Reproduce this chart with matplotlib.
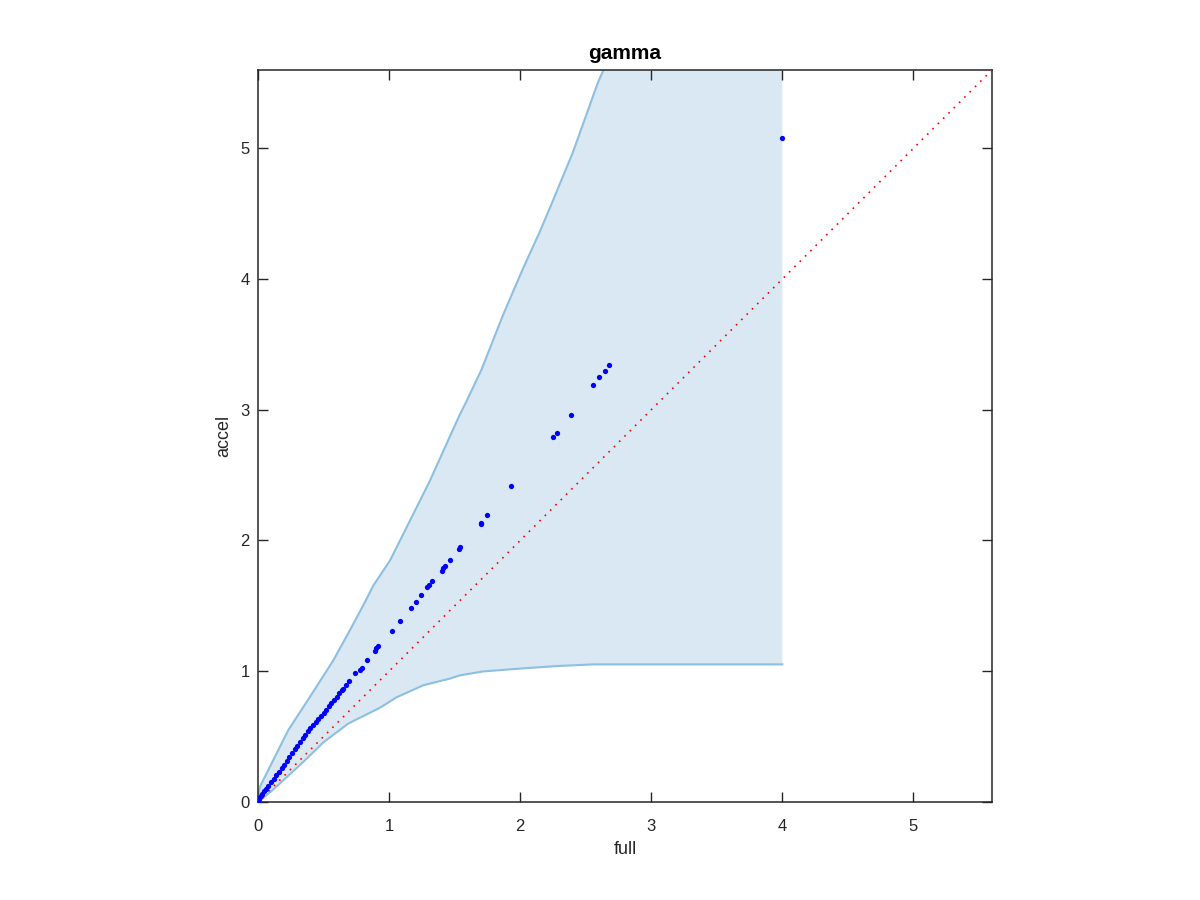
import matplotlib
matplotlib.use("Agg")
import matplotlib.pyplot as plt

# points (full, accel)
full = [0, 0.005, 0.01, 0.02, 0.03, 0.045, 0.06, 0.08, 0.10, 0.12, 0.14, 0.16,
        0.18, 0.20, 0.22, 0.24, 0.26, 0.28, 0.30, 0.32, 0.34, 0.36, 0.38, 0.40,
        0.42, 0.44, 0.46, 0.48, 0.50, 0.52, 0.54, 0.56, 0.58, 0.60, 0.62, 0.64,
        0.65, 0.67, 0.696, 0.739, 0.777, 0.79, 0.833, 0.891, 0.904, 0.917, 1.019,
        1.082, 1.166, 1.204, 1.24, 1.293, 1.308, 1.328, 1.40, 1.412, 1.43, 1.465,
        1.534, 1.542, 1.699, 1.704, 1.745, 1.93, 2.248, 2.28, 2.385, 2.555, 2.598,
        2.644, 2.677, 4.0]
accel = [0, 0.02, 0.03, 0.048, 0.062, 0.08, 0.098, 0.124, 0.150, 0.176, 0.203, 0.23,
         0.258, 0.286, 0.315, 0.344, 0.373, 0.402, 0.43, 0.46, 0.49, 0.515, 0.54, 0.565,
         0.59, 0.612, 0.635, 0.657, 0.68, 0.705, 0.73, 0.755, 0.78, 0.805, 0.83, 0.853,
         0.865, 0.893, 0.925, 0.987, 1.006, 1.025, 1.088, 1.153, 1.179, 1.191, 1.311,
         1.387, 1.48, 1.527, 1.582, 1.641, 1.663, 1.69, 1.763, 1.786, 1.801, 1.847,
         1.936, 1.949, 2.126, 2.134, 2.193, 2.418, 2.79, 2.825, 2.958, 3.188, 3.252,
         3.30, 3.346, 5.076]

# band edges
upper_x = [0, 0.0, 0.015, 0.104, 0.231, 0.396, 0.574, 0.70, 0.815, 0.879,
           1.006, 1.082, 1.31, 1.539, 1.59, 1.704, 1.869, 2.021, 2.149, 2.25, 2.402,
           2.593, 2.63, 3.0, 4.0]
upper_y = [0, 0.04, 0.117, 0.295, 0.549, 0.803, 1.082, 1.311, 1.527, 1.654,
           1.845, 1.997, 2.454, 2.962, 3.064, 3.305, 3.724, 4.079, 4.36, 4.60, 4.969,
           5.503, 5.587, 6.5, 9.0]
lower_x = [0, 0.1, 0.231, 0.35, 0.498, 0.69, 0.93, 1.057, 1.26, 1.463, 1.539,
           1.717, 2.0, 2.276, 2.555, 4.0]
lower_y = [0, 0.08, 0.20, 0.31, 0.455, 0.60, 0.72, 0.80, 0.892, 0.943, 0.968,
           0.998, 1.02, 1.039, 1.052, 1.052]

diag = [0, 5.6]

plt.rcParams['font.family'] = ['Liberation Sans', 'DejaVu Sans']

fig = plt.figure(figsize=(12, 9), dpi=100)
ax = fig.add_axes([0.215, 0.109, 0.6117, 0.8133])

band_x = upper_x + lower_x[::-1]
band_y = upper_y + lower_y[::-1]
ax.fill(band_x, band_y, color='#d9e8f3', linewidth=0, zorder=1)
ax.plot(upper_x, upper_y, color='#8dbfe0', linewidth=1.5, zorder=2)
ax.plot(lower_x, lower_y, color='#8dbfe0', linewidth=1.5, zorder=2)

ax.plot(full, accel, 'o', color='#0000ff', markersize=3.8, markeredgewidth=0, zorder=4)
ax.plot(diag, diag, color='#ff0000', linestyle=(0, (1, 3.5)), linewidth=1.2, zorder=3)

ax.set_xlim(0, 5.6)
ax.set_ylim(0, 5.6)
ax.set_xticks([0, 1, 2, 3, 4, 5])
ax.set_yticks([0, 1, 2, 3, 4, 5])
ax.tick_params(direction='in', top=True, right=True, length=7, width=1,
               labelsize=12, colors='#262626', pad=6)
ax.tick_params(axis='x', pad=12)
for s in ax.spines.values():
    s.set_color('#262626')
    s.set_linewidth(1.1)

ax.set_title('gamma', fontsize=15, fontweight='bold', pad=8)
ax.set_xlabel('full', fontsize=13, color='#262626', labelpad=5)
ax.set_ylabel('accel', fontsize=13, color='#262626', labelpad=6)

fig.savefig('out.png', dpi=100)
